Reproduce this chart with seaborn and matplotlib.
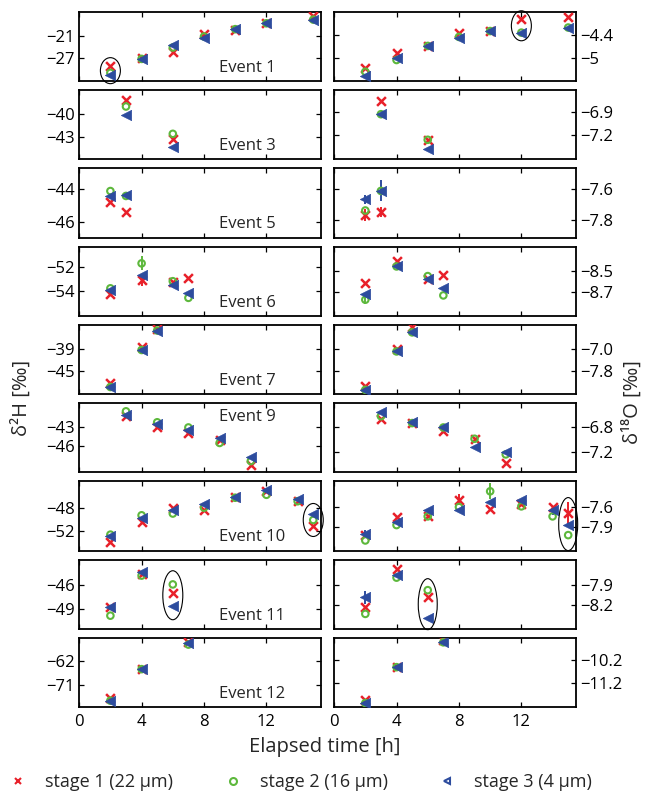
import numpy as np
import pandas as pd
import matplotlib
matplotlib.use("Agg")
import matplotlib.pyplot as plt
import matplotlib.transforms as mtransforms
from matplotlib.patches import Ellipse
from matplotlib.lines import Line2D
import seaborn as sns

# --- data ---
events = ["Event 1", "Event 3", "Event 5", "Event 6", "Event 7",
          "Event 9", "Event 10", "Event 11", "Event 12"]
times = [[2, 4, 6, 8, 10, 12, 15], [3, 6], [2, 3], [2, 4, 6, 7], [2, 4, 5],
         [3, 5, 7, 9, 11], [2, 4, 6, 8, 10, 12, 14, 15], [2, 4, 6], [2, 4, 7]]

# delta 2H, per stage
d2h_s1 = [[-29.3, -27.0, -25.4, -20.5, -19.3, -17.5, -15.5], [-38.3, -43.2],
          [-44.8, -45.4], [-54.3, -53.1, -53.3, -52.9], [-48.2, -38.6, -33.7],
          [-41.3, -43.0, -44.0, -45.1, -48.9],
          [-53.8, -50.5, -48.1, -48.4, -46.2, -45.1, -46.9, -51.2],
          [-48.7, -44.6, -47.0], [-76.2, -64.8, -54.5]]
d2h_s2 = [[-31.1, -27.3, -24.2, -21.2, -19.2, -17.6, -16.6], [-39.1, -42.6],
          [-44.1, -44.4], [-53.8, -51.7, -53.2, -54.6], [-49.2, -39.3, -34.1],
          [-40.6, -42.3, -43.1, -45.5, -48.3],
          [-52.6, -49.3, -49.0, -48.0, -46.3, -45.8, -46.9, -50.1],
          [-49.8, -44.8, -45.9], [-77.3, -65.0, -55.4]]
d2h_s3 = [[-31.7, -27.2, -23.5, -21.5, -19.1, -17.5, -16.7], [-40.2, -44.3],
          [-44.4, -44.35], [-53.9, -52.65, -53.5, -54.2], [-49.2, -39.3, -34.1],
          [-41.1, -42.6, -43.5, -44.7, -47.6],
          [-52.9, -49.7, -48.45, -47.3, -46.2, -44.9, -46.6, -49.0],
          [-48.7, -44.4, -48.6], [-77.5, -64.8, -54.6]]

# delta 18O, per stage
d18o_s1 = [[-5.24, -4.87, -4.68, -4.36, -4.30, -3.99, -3.93], [-6.76, -7.27],
           [-7.77, -7.75], [-8.615, -8.41, -8.58, -8.54], [-8.34, -7.0, -6.23],
           [-6.68, -6.74, -6.865, -6.99, -7.38],
           [-8.02, -7.75, -7.74, -7.49, -7.625, -7.55, -7.6, -7.69],
           [-8.225, -7.65, -8.085], [-11.91, -10.49, -9.31]]
d18o_s2 = [[-5.34, -5.04, -4.68, -4.45, -4.30, -4.34, -4.21], [-6.93, -7.27],
           [-7.74, -7.61], [-8.77, -8.46, -8.55, -8.73], [-8.46, -7.09, -6.41],
           [-6.63, -6.74, -6.81, -6.99, -7.24],
           [-8.1, -7.87, -7.74, -7.6, -7.365, -7.59, -7.74, -8.02],
           [-8.335, -7.785, -7.975], [-12.05, -10.49, -9.41]]
d18o_s3 = [[-5.45, -4.98, -4.68, -4.47, -4.30, -4.34, -4.21], [-6.93, -7.39],
           [-7.665, -7.61], [-8.72, -8.46, -8.58, -8.66], [-8.46, -7.09, -6.41],
           [-6.56, -6.72, -6.80, -7.12, -7.20],
           [-8.0, -7.82, -7.64, -7.65, -7.525, -7.5, -7.65, -7.87],
           [-8.085, -7.75, -8.4], [-12.05, -10.49, -9.41]]

# visible error bars: (event, isotope, stage, time, +/-)
errors = [("Event 5", "d18O", 3, 2, 0.03), ("Event 5", "d18O", 1, 2, 0.04),
          ("Event 5", "d18O", 3, 3, 0.07), ("Event 5", "d18O", 1, 3, 0.03),
          ("Event 6", "d2H", 2, 4, 0.6), ("Event 6", "d2H", 1, 4, 0.5),
          ("Event 6", "d18O", 2, 2, 0.04),
          ("Event 10", "d18O", 3, 2, 0.05), ("Event 10", "d18O", 1, 8, 0.08),
          ("Event 10", "d18O", 2, 10, 0.12), ("Event 10", "d18O", 3, 14, 0.07),
          ("Event 10", "d18O", 1, 15, 0.17), ("Event 11", "d18O", 3, 2, 0.1)]

# circled points: (event, isotope, time, width px, height px)
circled = [("Event 1", "d2H", 2, 20, 26), ("Event 1", "d18O", 12, 20, 30),
           ("Event 10", "d2H", 15, 20, 33), ("Event 10", "d18O", 15, 19, 53),
           ("Event 11", "d2H", 6, 20, 49), ("Event 11", "d18O", 6, 19, 51)]

yticks_h = [[-21, -27], [-40, -43], [-44, -46], [-52, -54], [-39, -45],
            [-43, -46], [-48, -52], [-46, -49], [-62, -71]]
ylabels_o = [["−4.4", "−5"], ["−6.9", "−7.2"], ["−7.6", "−7.8"], ["−8.5", "−8.7"],
             ["−7.0", "−7.8"], ["−6.8", "−7.2"], ["−7.6", "−7.9"], ["−7.9", "−8.2"],
             ["−10.2", "−11.2"]]
ylim_h = [(-33.35, -14.5), (-45.87, -37.0), (-46.95, -42.71), (-56.11, -50.29),
          (-51.08, -32.57), (-50.04, -39.32), (-55.31, -43.49), (-51.43, -42.79),
          (-79.76, -52.73)]
ylim_o = [(-5.58, -3.81), (-7.53, -6.61), (-7.92, -7.46), (-8.92, -8.275),
          (-8.61, -6.14), (-7.525, -6.42), (-8.25, -7.215), (-8.56, -7.51),
          (-12.22, -9.21)]

stage_names = {1: "stage 1 (22 µm)", 2: "stage 2 (16 µm)", 3: "stage 3 (4 µm)"}
red, green, blue = "#E8202A", "#5DB83C", "#2D4C9E"

# long table
rows = []
series = {("d2H", 1): d2h_s1, ("d2H", 2): d2h_s2, ("d2H", 3): d2h_s3,
          ("d18O", 1): d18o_s1, ("d18O", 2): d18o_s2, ("d18O", 3): d18o_s3}
for (iso, st), vals in series.items():
    for ev, tt, vv in zip(events, times, vals):
        for t, v in zip(tt, vv):
            rows.append({"event": ev, "iso": iso, "stage": st, "time": t, "value": v})
df = pd.DataFrame(rows)

sns.set_style("ticks")
plt.rcParams['font.family'] = ['Open Sans', 'DejaVu Sans']
plt.rcParams.update({
    "xtick.direction": "in", "ytick.direction": "in",
    "xtick.top": True, "ytick.right": True,
    "xtick.major.size": 3.5, "ytick.major.size": 3.5,
    "xtick.major.width": 0.9, "ytick.major.width": 0.9,
    "axes.linewidth": 1.3, "axes.edgecolor": "black",
    "xtick.color": "black", "ytick.color": "black",
    "xtick.labelsize": 12, "ytick.labelsize": 12,
})

fig, axes = plt.subplots(9, 2, figsize=(6.49, 7.93), dpi=100, sharex=True)
fig.subplots_adjust(left=0.122, right=0.8875, top=0.985, bottom=0.1085,
                    wspace=0.054, hspace=0.13)

style = {1: dict(marker="x", color=red, s=40, linewidth=1.8),
         2: dict(marker="o", color=green, facecolor="none", edgecolor=green,
                 s=22, linewidth=1.5),
         3: dict(marker="<", color=blue, edgecolor=blue, s=55, linewidth=0.5)}
colors = {1: red, 2: green, 3: blue}

for i, ev in enumerate(events):
    for j, iso in enumerate(["d2H", "d18O"]):
        ax = axes[i, j]
        sub = df[(df.event == ev) & (df.iso == iso)]
        for st in [1, 2, 3]:
            d = sub[sub.stage == st]
            for e in errors:
                if e[0] == ev and e[1] == iso and e[2] == st:
                    y0 = d.loc[d.time == e[3], "value"].values
                    ax.errorbar([e[3]], y0, yerr=e[4], fmt="none",
                                ecolor=colors[st], elinewidth=1.4, capsize=0)
            sns.scatterplot(data=d, x="time", y="value", ax=ax, legend=False,
                            zorder=3, **style[st])

        for c in circled:
            if c[0] == ev and c[1] == iso:
                v = sub.loc[sub.time == c[2], "value"]
                cy = (v.min() + v.max()) / 2
                trans = fig.dpi_scale_trans + mtransforms.ScaledTranslation(
                    c[2], cy, ax.transData)
                ax.add_patch(Ellipse((0, 0), c[3] / 100, c[4] / 100,
                                     transform=trans, fill=False,
                                     edgecolor="black", linewidth=0.8,
                                     clip_on=False, zorder=4))

        ax.set_xlim(0, 15.5)
        ax.set_xticks([0, 4, 8, 12])
        ax.set_xlabel("")
        ax.set_ylabel("")
        if j == 0:
            ax.set_ylim(*ylim_h[i])
            ax.set_yticks(yticks_h[i])
            ax.set_yticklabels(["−%d" % abs(t) for t in yticks_h[i]])
            ax.tick_params(axis="y", pad=3)
            # Event 9 label sits at the top of its panel
            ty = 0.80 if ev == "Event 9" else 0.19
            ax.text(0.58, ty, ev, transform=ax.transAxes,
                    fontsize=12, va="center", ha="left")
        else:
            ax.set_ylim(*ylim_o[i])
            ax.set_yticks([float(s.replace("−", "-")) for s in ylabels_o[i]])
            ax.set_yticklabels(ylabels_o[i])
            ax.yaxis.tick_right()
            ax.yaxis.set_ticks_position("both")
            ax.tick_params(axis="y", labelleft=False, labelright=True, pad=3)
        ax.tick_params(axis="x", pad=5)

fig.text(0.5, 1 - 747 / 793, "Elapsed time [h]", ha="center", va="center", fontsize=14.5)
fig.text(22 / 649, 1 - 398 / 793, "δ²H [‰]", ha="center", va="center",
         rotation=90, fontsize=14.5)
fig.text(633 / 649, 1 - 402 / 793, "δ¹⁸O [‰]", ha="center", va="center",
         rotation=90, fontsize=14.5)

handles = [Line2D([], [], linestyle="none", marker="x", color=red, markersize=5, markeredgewidth=1.5),
           Line2D([], [], linestyle="none", marker="o", color=green, markerfacecolor="none",
                  markersize=5, markeredgewidth=1.5),
           Line2D([], [], linestyle="none", marker="<", color=blue, markerfacecolor="none",
                  markersize=5, markeredgewidth=1.5)]
fig.legend(handles, [stage_names[k] for k in [1, 2, 3]], loc="lower center",
           bbox_to_anchor=(0.463, -0.018), ncol=3, frameon=False, fontsize=13,
           handlelength=1.0, handletextpad=1.0, columnspacing=2.8)

fig.savefig("out.png", dpi=100)
